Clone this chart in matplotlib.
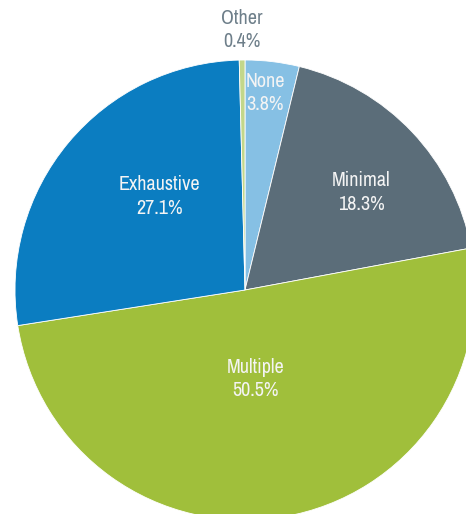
import numpy as np
import matplotlib.pyplot as plt
from matplotlib import font_manager

# Share of responses by approach, clockwise from the top
categories = ["None", "Minimal", "Multiple", "Exhaustive", "Other"]
shares = [3.8, 18.3, 50.5, 27.1, 0.4]
colours = ["#86c0e4", "#5b6d79", "#a0bf3b", "#0b7dc1", "#c3d78a"]

# Label placement: fraction of the radius and a small angle nudge (degrees)
label_place = {
    "None": (0.86, 1.0),
    "Minimal": (0.66, -3.4),
    "Multiple": (0.39, -3.2),
    "Exhaustive": (0.55, -7.8),
    "Other": (1.13, 0.0),
}

names = sorted({f.name for f in font_manager.fontManager.ttflist})
narrow = [n for n in names if "Narrow" in n or "Condensed" in n]
plt.rcParams["font.family"] = narrow[:1] + ["DejaVu Sans"]

fig = plt.figure(figsize=(4.66, 5.14), dpi=100)
ax = fig.add_axes([0, 0, 1, 1])

cx, cy, radius = 245, 514 - 290, 230
wedges, _ = ax.pie(shares, colors=colours, startangle=90, counterclock=False,
                   center=(cx, cy), radius=radius,
                   wedgeprops=dict(edgecolor="white", linewidth=0.6))

for w, name, val in zip(wedges, categories, shares):
    frac, nudge = label_place[name]
    mid = np.deg2rad((w.theta1 + w.theta2) / 2 + nudge)
    x = cx + frac * radius * np.cos(mid)
    y = cy + frac * radius * np.sin(mid)
    colour = "#6e7f8a" if name == "Other" else "#f4f4f4"
    ax.text(x, y, f"{name}\n{val:.1f}%", ha="center", va="center",
            fontsize=14.5, color=colour, linespacing=1.3,
            fontstretch="condensed")

ax.set_xlim(0, 466)
ax.set_ylim(0, 514)
ax.set_aspect("equal")
ax.axis("off")

fig.savefig("out.png", dpi=100)
